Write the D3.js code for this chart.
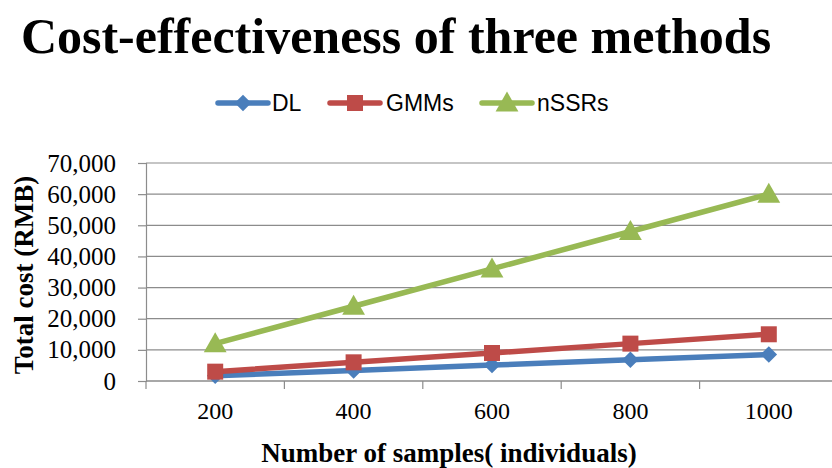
<!DOCTYPE html>
<html>
<head>
<meta charset="utf-8">
<script src="https://cdn.jsdelivr.net/npm/d3@7"></script>
<style>
  html, body { margin: 0; padding: 0; background: #fff; }
  svg { display: block; }
</style>
</head>
<body>
<svg id="chart" width="832" height="468"></svg>
<script>
// Sample sizes and total cost (RMB) for each genotyping method
const categories = ["200", "400", "600", "800", "1000"];
const dlValues = [1700, 3400, 5100, 6800, 8500];
const gmmValues = [3000, 6000, 9000, 12000, 15000];
const nssrValues = [12000, 24000, 36000, 48000, 60000];
const yTicks = [0, 10000, 20000, 30000, 40000, 50000, 60000, 70000];

const series = [
  { name: "DL", values: dlValues, color: "#4a7ebb", marker: "diamond" },
  { name: "GMMs", values: gmmValues, color: "#be4b48", marker: "square" },
  { name: "nSSRs", values: nssrValues, color: "#98b954", marker: "triangle" }
];

const svg = d3.select("#chart");
const plot = { left: 146, right: 838, top: 163, bottom: 381 };
const serif = "'Liberation Serif', 'Times New Roman', serif";
const sans = "'Liberation Sans', Arial, sans-serif";

const x = d3.scaleBand().domain(categories).range([plot.left, plot.right]);
const y = d3.scaleLinear().domain([0, 70000]).range([plot.bottom, plot.top]);

// Title
svg.append("text")
  .attr("x", 396).attr("y", 53)
  .attr("text-anchor", "middle")
  .style("font-family", serif).style("font-weight", "bold").style("font-size", "50px")
  .text("Cost-effectiveness of three methods");

// Horizontal gridlines
svg.append("g").selectAll("line").data(yTicks).join("line")
  .attr("x1", plot.left).attr("x2", plot.right)
  .attr("y1", d => y(d)).attr("y2", d => y(d))
  .attr("stroke", "#8c8c8c").attr("stroke-width", 1.2);

// Y axis
const yAxis = svg.append("g")
  .attr("transform", `translate(${plot.left},0)`)
  .call(d3.axisLeft(y).tickValues(yTicks).tickSize(8).tickPadding(22)
    .tickFormat(d3.format(",")));
yAxis.select(".domain").attr("stroke", "#8c8c8c").attr("stroke-width", 1.2);
yAxis.selectAll(".tick line").attr("stroke", "#8c8c8c").attr("stroke-width", 1.2);
yAxis.selectAll("text")
  .style("font-family", serif).style("font-size", "25px").attr("fill", "#000");

// X axis with ticks between categories
const xAxis = svg.append("g")
  .attr("transform", `translate(0,${plot.bottom})`)
  .call(d3.axisBottom(x).tickSize(0).tickPadding(21));
xAxis.select(".domain").remove();
xAxis.selectAll("text")
  .style("font-family", serif).style("font-size", "24px").attr("fill", "#000");
xAxis.append("line")
  .attr("x1", plot.left).attr("x2", plot.right)
  .attr("y1", 0).attr("y2", 0)
  .attr("stroke", "#8c8c8c").attr("stroke-width", 1.2);
xAxis.selectAll(".sep").data(categories).join("line")
  .attr("class", "sep")
  .attr("x1", d => x(d)).attr("x2", d => x(d))
  .attr("y1", 0).attr("y2", 8)
  .attr("stroke", "#8c8c8c").attr("stroke-width", 1.2);

// Axis titles
svg.append("text")
  .attr("transform", `translate(33,${(plot.top + plot.bottom) / 2 + 3}) rotate(-90)`)
  .attr("text-anchor", "middle")
  .style("font-family", serif).style("font-weight", "bold").style("font-size", "27px")
  .text("Total cost (RMB)");
svg.append("text")
  .attr("x", 449).attr("y", 462)
  .attr("text-anchor", "middle")
  .style("font-family", serif).style("font-weight", "bold").style("font-size", "27px")
  .text("Number of samples( individuals)");

// Marker shapes
function markerPath(type, size) {
  if (type === "diamond") {
    const s = size * 0.55;
    return `M0,${-s}L${s},0L0,${s}L${-s},0Z`;
  }
  if (type === "square") {
    const s = size / 2;
    return `M${-s},${-s}H${s}V${s}H${-s}Z`;
  }
  const s = size * 0.6;
  return `M0,${-s}L${s},${s * 0.75}L${-s},${s * 0.75}Z`;
}
const markerSize = { diamond: 15, square: 16, triangle: 19 };

const line = d3.line()
  .x((d, i) => x(categories[i]) + x.bandwidth() / 2)
  .y(d => y(d));

series.forEach(s => {
  const g = svg.append("g");
  g.append("path")
    .attr("d", line(s.values))
    .attr("fill", "none").attr("stroke", s.color)
    .attr("stroke-width", 5.5).attr("stroke-linejoin", "round").attr("stroke-linecap", "round");
  g.selectAll("path.m").data(s.values).join("path")
    .attr("class", "m")
    .attr("transform", (d, i) => `translate(${x(categories[i]) + x.bandwidth() / 2},${y(d)})`)
    .attr("d", markerPath(s.marker, markerSize[s.marker]))
    .attr("fill", s.color);
});

// Legend
const legendItems = [
  { lx: 218, tx: 272 },
  { lx: 330, tx: 386 },
  { lx: 482, tx: 537 }
];
series.forEach((s, i) => {
  const it = legendItems[i];
  const g = svg.append("g");
  g.append("line")
    .attr("x1", it.lx).attr("x2", it.lx + 50)
    .attr("y1", 103).attr("y2", 103)
    .attr("stroke", s.color).attr("stroke-width", 5.5).attr("stroke-linecap", "round");
  g.append("path")
    .attr("transform", `translate(${it.lx + 25},103)`)
    .attr("d", markerPath(s.marker, markerSize[s.marker]))
    .attr("fill", s.color);
  g.append("text")
    .attr("x", it.tx).attr("y", 111)
    .style("font-family", sans).style("font-size", "23px")
    .text(s.name);
});
</script>
</body>
</html>
